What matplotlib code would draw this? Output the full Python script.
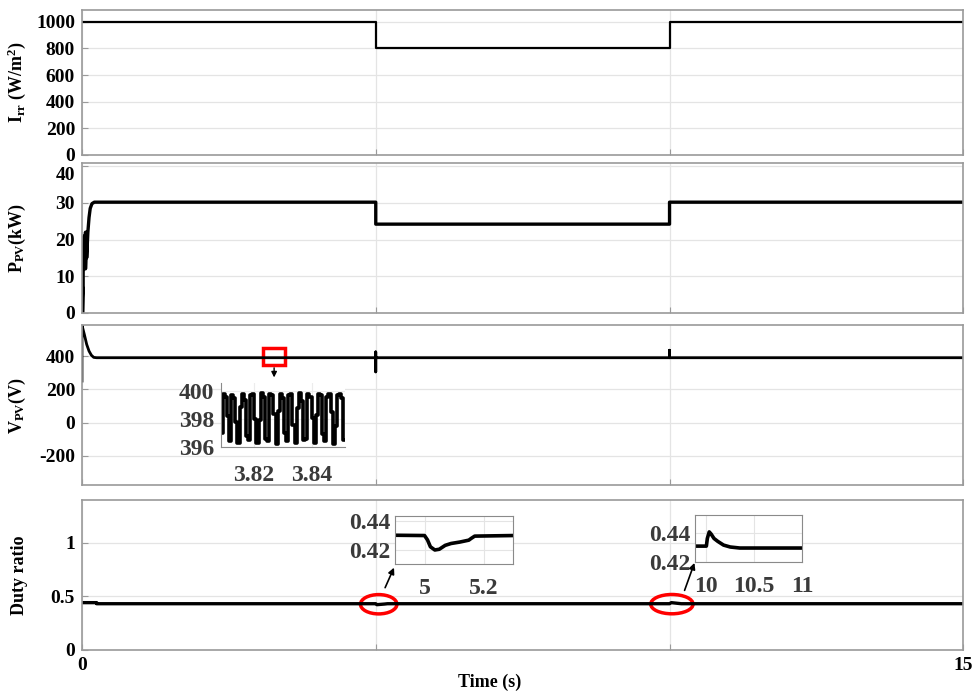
import numpy as np
import matplotlib
matplotlib.use('Agg')
import matplotlib.pyplot as plt
import matplotlib.transforms as mtransforms
from matplotlib.patches import Ellipse, Rectangle

plt.rcParams['font.family'] = ['Liberation Serif', 'DejaVu Serif']
plt.rcParams['font.weight'] = 'bold'
plt.rcParams['mathtext.fontset'] = 'custom'
plt.rcParams['mathtext.rm'] = 'Liberation Serif:bold'
plt.rcParams['mathtext.bf'] = 'Liberation Serif:bold'
plt.rcParams['mathtext.it'] = 'Liberation Serif:bold'
plt.rcParams['mathtext.default'] = 'bf'

# irradiance (W/m2)
irr_t = [0, 5, 5, 10, 10, 15]
irr_v = [1000, 1000, 800, 800, 1000, 1000]

# PV power (kW)
ppv_t = [0, 0.01, 0.01, 0.02, 0.02, 0.04, 0.04, 0.06, 0.06, 0.08, 0.08, 0.10,
         0.12, 0.14, 0.17, 0.21, 5.0, 5.0, 10.0, 10.0, 15.0]
ppv_v = [0, 7, 0, 7, 11, 21, 12, 22, 12, 22, 15, 22,
         26, 28.5, 29.8, 30.2, 30.2, 24.2, 24.2, 30.2, 30.2]

# PV voltage (V)
vpv_t = [0, 0, 0.04, 0.08, 0.12, 0.16, 0.2, 0.25, 5.0, 5.0, 5.0, 5.0,
         10.0, 10.0, 10.0, 15.0]
vpv_v = [250, 585, 530, 470, 430, 405, 392, 390, 390, 425, 305, 390,
         390, 435, 390, 390]

# zoomed PV voltage around 3.83 s
vz_v = [397.0, 399.8, 399.6, 398.2, 396.4, 399.7, 399.5, 397.8, 396.3, 398.9,
        399.8, 399.4, 396.8, 396.5, 399.7, 399.8, 398.0, 396.3, 397.9, 399.9,
        399.6, 396.6, 396.4, 399.8, 399.7, 398.4, 396.2, 398.6, 399.8, 399.5,
        397.0, 396.4, 399.7, 399.8, 397.6, 396.3, 398.8, 399.9, 399.3, 396.5,
        396.6, 399.8, 399.6, 398.1, 396.3, 398.3, 399.8, 399.7, 396.9, 396.4,
        399.6, 399.8, 398.5, 396.2, 397.5, 399.7, 399.8, 399.5, 396.5]
vz_t = np.linspace(3.8088, 3.8512, len(vz_v))

# duty ratio
duty_t = [0, 0.25, 0.25, 5.0, 5.02, 5.06, 5.15, 5.2, 10.0, 10.03, 10.2, 15]
duty_v = [0.44, 0.44, 0.43, 0.43, 0.421, 0.423, 0.427, 0.43, 0.43, 0.44, 0.43, 0.43]

# zoom at 5 s
za_t = [4.9, 5.0, 5.01, 5.02, 5.035, 5.05, 5.07, 5.09, 5.12, 5.15, 5.158, 5.17, 5.3]
za_v = [0.4302, 0.4300, 0.427, 0.4222, 0.4200, 0.4205, 0.4232, 0.4245, 0.4255,
        0.4268, 0.428, 0.4296, 0.4300]

# zoom at 10 s
zb_t = [9.88, 10.0, 10.01, 10.03, 10.05, 10.08, 10.12, 10.18, 10.25, 10.35, 11.0]
zb_v = [0.4308, 0.4308, 0.436, 0.4405, 0.439, 0.436, 0.434, 0.4315, 0.4302,
        0.4295, 0.4295]

spine_c = '#9a9a9a'
grid_c = '#e4e4e4'

fig = plt.figure(figsize=(9.76, 6.95), dpi=100)

L, W = 0.084, 0.903
ax1 = fig.add_axes([L, 0.777, W, 0.209])
ax2 = fig.add_axes([L, 0.550, W, 0.216])
ax3 = fig.add_axes([L, 0.302, W, 0.230])
ax4 = fig.add_axes([L, 0.065, W, 0.216])

def style(ax):
    ax.set_xlim(0, 15)
    ax.set_xticks([0, 5, 10, 15])
    ax.grid(True, color=grid_c, linewidth=0.9)
    ax.set_axisbelow(True)
    for s in ax.spines.values():
        s.set_color(spine_c)
        s.set_linewidth(1.2)
    ax.tick_params(direction='in', length=4, color=spine_c, labelsize=14, pad=5)
    for lab in ax.get_yticklabels() + ax.get_xticklabels():
        lab.set_fontweight('bold')

ax1.plot(irr_t, irr_v, color='k', lw=1.6)
ax1.set_ylim(0, 1090)
ax1.set_yticks([0, 200, 400, 600, 800, 1000])
style(ax1)
ax1.set_xticklabels([])
ax1.set_ylabel(r'I$_{rr}$ (W/m$^{2}$)', fontsize=13, fontweight='bold')

ax2.plot(ppv_t, ppv_v, color='k', lw=2.4)
ax2.set_ylim(0, 41)
ax2.set_yticks([0, 10, 20, 30, 40])
style(ax2)
ax2.set_xticklabels([])
ax2.set_ylabel(r'P$_{PV}$(kW)', fontsize=13, fontweight='bold')
# top label sits a little lower, as in the original
lab40 = ax2.get_yticklabels()[-1]
lab40.set_transform(lab40.get_transform() +
                    mtransforms.ScaledTranslation(0, -5 / 72, fig.dpi_scale_trans))

ax3.plot(vpv_t, vpv_v, color='k', lw=2.0)
ax3.set_ylim(-375, 585)
ax3.set_yticks([-200, 0, 200, 400])
ax3.set_yticklabels(['-200', '0', '200', '400'])
style(ax3)
ax3.set_xticklabels([])
ax3.set_ylabel(r'V$_{PV}$(V)', fontsize=13, fontweight='bold')
ax3.add_patch(Rectangle((3.08, 346), 0.38, 102, fill=False, edgecolor='red', lw=2.5))
ax3.annotate('', xy=(3.27, 255), xytext=(3.27, 346),
             arrowprops=dict(arrowstyle='-|>', color='k', lw=1.0, mutation_scale=8))

ax4.plot(duty_t, duty_v, color='k', lw=2.4)
ax4.set_ylim(0, 1.4)
ax4.set_yticks([0, 0.5, 1])
ax4.set_yticklabels(['0', '0.5', '1'])
style(ax4)
ax4.set_xticklabels(['0', '', '', '15'])
ax4.set_ylabel('Duty ratio', fontsize=13, fontweight='bold')
ax4.add_patch(Ellipse((5.05, 0.425), 0.62, 0.18, fill=False, edgecolor='red', lw=2.5))
ax4.add_patch(Ellipse((10.04, 0.426), 0.72, 0.18, fill=False, edgecolor='red', lw=2.5))
ax4.annotate('', xy=(5.33, 0.79), xytext=(5.14, 0.556),
             arrowprops=dict(arrowstyle='-|>', color='k', lw=1.2, mutation_scale=9))
ax4.annotate('', xy=(10.44, 0.835), xytext=(10.24, 0.53),
             arrowprops=dict(arrowstyle='-|>', color='k', lw=1.2, mutation_scale=9))
fig.text(490 / 976, 1 - 682 / 695, 'Time (s)', fontsize=13, fontweight='bold',
         ha='center', va='center')

for ax in (ax1, ax2, ax3, ax4):
    ax.yaxis.set_label_coords(-0.061, 0.5)

# inset: PV voltage zoom
ins_c = '#3a3a3a'
axv = fig.add_axes([0.2264, 0.357, 0.127, 0.092])
axv.plot(vz_t, vz_v, color='k', lw=2.6, drawstyle='steps-mid')
axv.set_xlim(3.8086, 3.8514)
axv.set_ylim(396, 400.6)
axv.set_yticks([396, 398, 400])
axv.set_xticks([3.82, 3.84])
axv.grid(True, color='#ececec', linewidth=0.8)
axv.spines['top'].set_visible(False)
axv.spines['right'].set_visible(False)
for s in ('left', 'bottom'):
    axv.spines[s].set_color('#8a8a8a')
axv.tick_params(length=0, labelsize=17, labelcolor=ins_c)
axv.tick_params(axis='y', pad=5)
axv.tick_params(axis='x', pad=13)

# inset: duty ratio zoom at 5 s
axa = fig.add_axes([0.4047, 0.1885, 0.121, 0.069])
axa.plot(za_t, za_v, color='k', lw=2.6)
axa.set_xlim(4.9, 5.3)
axa.set_ylim(0.4103, 0.4435)
axa.set_xticks([5, 5.2])
axa.set_xticklabels(['5', '5.2'])
axa.set_yticks([0.42, 0.44])
axa.set_yticklabels(['0.42', '0.44'])

# inset: duty ratio zoom at 10 s
axb = fig.add_axes([0.712, 0.1914, 0.1096, 0.0676])
axb.plot(zb_t, zb_v, color='k', lw=2.6)
axb.set_xlim(9.88, 11.0)
axb.set_ylim(0.42, 0.452)
axb.set_xticks([10, 10.5, 11])
axb.set_xticklabels(['10', '10.5', '11'])
axb.set_yticks([0.42, 0.44])
axb.set_yticklabels(['0.42', '0.44'])

for ax in (axa, axb):
    ax.grid(True, color='#e4e4e4', linewidth=0.8)
    for s in ax.spines.values():
        s.set_color('#8a8a8a')
    ax.tick_params(length=0, labelsize=17, labelcolor=ins_c)
    ax.tick_params(axis='y', pad=3)
    ax.tick_params(axis='x', pad=10)

for ax in (axv, axa, axb):
    for lab in ax.get_yticklabels() + ax.get_xticklabels():
        lab.set_fontweight('bold')

fig.savefig('out.png', dpi=100)
